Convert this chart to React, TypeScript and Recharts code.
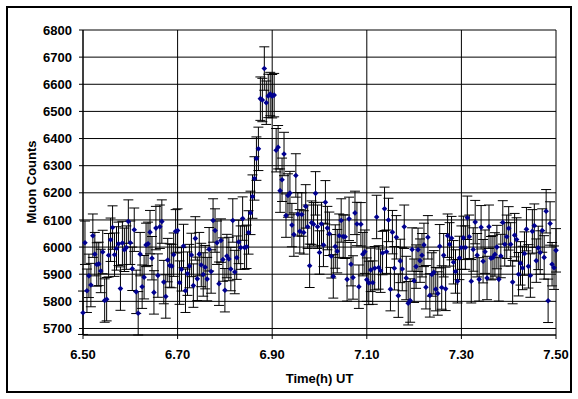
import React from 'react';
import { CartesianGrid, ErrorBar, Label, Scatter, ScatterChart, XAxis, YAxis } from 'recharts';

// 15 s counting interval starting at 6.50 h UT
const START_HOUR = 6.5;
const SAMPLE_SECONDS = 15;

// counts, one per 15 s sample (6.50 .. 7.50 h)
const muonCounts = [
  5758, 6016, 5839, 5894, 5860, 6042, 5974, 5936, 5938, 5912,
  5982, 5803, 5808, 5970, 6027, 6072, 5972, 5995, 6012, 5847,
  6015, 5990, 5998, 6094, 6016, 5920, 6064, 5835, 5756, 5974,
  5854, 5889, 6008, 6012, 6055, 5959, 5833, 6070, 5895, 6075,
  6094, 5871, 5818, 5952, 5932, 5930, 5972, 6058, 6061, 5869,
  5918, 6004, 5839, 5902, 5930, 5971, 5858, 6032, 5883, 5974,
  5934, 5899, 5926, 5882, 5992, 5910, 6098, 6061, 6016, 5865,
  6024, 5954, 5841, 5967, 5956, 5919, 6098, 5908, 5961, 6019,
  5998, 6105, 5998, 6001, 6054, 6126, 6186, 6253, 6326, 6362,
  6547, 6542, 6658, 6532, 6557, 6564, 6556, 6560,
  6357, 6368, 6208, 6248, 6343, 6116, 6190, 6199, 6081, 6046,
  6264, 6121, 6058, 6120, 6054, 6150, 6075, 5931, 6090, 6084,
  6198, 6075, 5980, 6085, 6008, 6165, 6070, 6049, 5966, 5892,
  6002, 5985, 6042, 6098, 6039, 6038, 5881, 6104, 5937, 5888,
  6126, 6085, 5854, 6084, 5974,
  5983, 5880, 5868, 5916, 5869, 5922, 6111, 5925, 5913, 5978,
  6141, 5983, 6100, 5845, 6055, 5922, 6036, 5821, 5949, 5919,
  6075, 5886, 5793, 5803, 5991, 5876, 5928, 5990, 5950, 5970,
  6008, 5852, 6036, 5822, 5899, 5907, 5845, 5829, 6003, 5851,
  5970, 5846, 6042, 6010, 6033, 5944, 5910, 5874, 5960,
  5998, 6034, 5998, 6108, 6038, 5874, 5991, 6092, 5970, 5881,
  6073, 5948, 5983, 5886, 6075, 5959, 5962, 5973, 6000, 5881,
  5967, 6091, 6010, 6038, 6069, 6010, 5871, 6044, 6028, 5900,
  5940, 5923, 5976, 6066, 5929, 5895, 6058, 6079, 5950, 5997,
  5980, 6061, 5962, 6132, 5802, 6087, 5937, 5924, 5988,
];

// half length of the error bars
const ERROR_BAR = 80;

const xTicks = [6.5, 6.7, 6.9, 7.1, 7.3, 7.5];
const yTicks = [5700, 5800, 5900, 6000, 6100, 6200, 6300, 6400, 6500, 6600, 6700, 6800];

const data = muonCounts.map((count, i) => ({
  time: START_HOUR + (i * SAMPLE_SECONDS) / 3600,
  count,
  err: ERROR_BAR,
}));

const font = 'Liberation Sans, Arial, sans-serif';
const tickStyle = { fontFamily: font, fontSize: 13, fontWeight: 'bold', fill: '#000' };
const titleStyle = { fontFamily: font, fontSize: 13, fontWeight: 'bold', fill: '#000' };

const Diamond = (props: any) => {
  const { cx, cy } = props;
  if (cx == null || cy == null) return null;
  const r = 2.8;
  return <path d={`M${cx},${cy - r}L${cx + r},${cy}L${cx},${cy + r}L${cx - r},${cy}Z`} fill="#000090" />;
};

export default function App() {
  return (
    <div style={{ position: 'absolute', left: 0, top: 0, width: 578, height: 399, background: '#fff' }}>
      <div
        style={{
          position: 'absolute',
          left: 6,
          top: 6,
          width: 566,
          height: 387,
          border: '2px solid #000',
          boxSizing: 'border-box',
        }}
      />
      <div style={{ position: 'absolute', left: 0, top: 0 }}>
        <ScatterChart width={578} height={399} margin={{ top: 30, right: 22, bottom: 24, left: 0 }}>
          <CartesianGrid stroke="#000" strokeWidth={1} />
          <XAxis
            type="number"
            dataKey="time"
            domain={[6.5, 7.5]}
            ticks={xTicks}
            tickFormatter={(v: number) => v.toFixed(2)}
            tick={tickStyle}
            tickSize={4}
            tickMargin={11}
            height={40}
            stroke="#000"
            label={{
              content: (p: any) => {
                const vb = p.viewBox || { x: 83, width: 473 };
                return (
                  <text x={vb.x + vb.width / 2} y={383} textAnchor="middle" style={titleStyle}>
                    Time(h) UT
                  </text>
                );
              },
            }}
          />
          <YAxis
            type="number"
            dataKey="count"
            domain={[5700, 6800]}
            ticks={yTicks}
            tick={tickStyle}
            tickSize={4}
            tickMargin={7}
            width={83}
            stroke="#000"
            label={{
              content: () => (
                <text
                  x={31}
                  y={182}
                  transform="rotate(-90 31 182)"
                  textAnchor="middle"
                  dominantBaseline="central"
                  style={titleStyle}
                >
                  Muon Counts
                </text>
              ),
            }}
          />
          <Scatter data={data} shape={<Diamond />} isAnimationActive={false}>
            <ErrorBar dataKey="err" direction="y" width={5} stroke="#000" strokeWidth={1} isAnimationActive={false} />
          </Scatter>
        </ScatterChart>
      </div>
    </div>
  );
}
